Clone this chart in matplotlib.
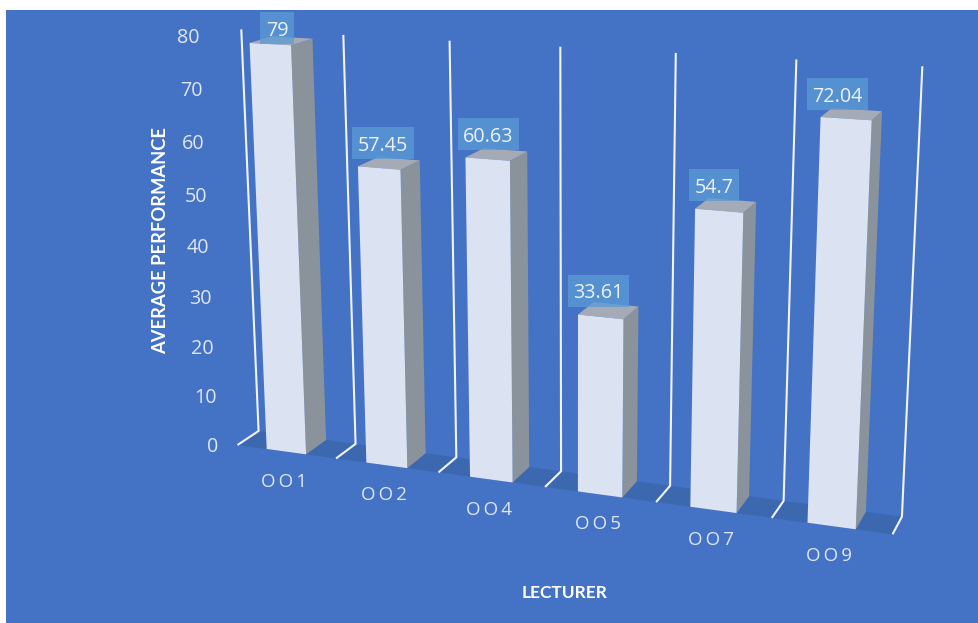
#!/usr/bin/env python3

import numpy as np
import matplotlib
matplotlib.use("Agg")
import matplotlib.pyplot as plt
from matplotlib.patches import Polygon, Rectangle

lecturers = ["O\u2009O\u20091", "O\u2009O\u20092", "O\u2009O\u20094", "O\u2009O\u20095", "O\u2009O\u20097", "O\u2009O\u20099"]
performance = [79, 57.45, 60.63, 33.61, 54.7, 72.04]
value_labels = ["79", "57.45", "60.63", "33.61", "54.7", "72.04"]
y_ticks = [0, 10, 20, 30, 40, 50, 60, 70, 80]

BLUE = "#4472C4"
FLOOR = "#3C68B0"
FRONT = "#DBE2F2"
SIDE = "#8A929C"
TOP = "#A4ABB6"
GRID = "#F1F4FB"
TICK = "#DFE6F4"
FONT = ["Open Sans", "DejaVu Sans"]

# camera for the 3d look: (slot, value, depth) -> canvas pixel, depth 0 is the front of the floor
camera_x = [0, 1, 2, 3, 4, 5, 6]
back_top = [(241, 29), (343, 35), (449, 41), (560, 47), (676, 53), (796, 59), (922, 66)]
back_bottom = [(259, 431), (356, 444), (457, 457), (561, 471), (670, 486), (784, 501), (902, 517)]
front_bottom = [(237, 445), (336, 459), (438, 472), (544, 487), (656, 502), (772, 518), (892, 534)]
front_refs = [
    (0.3, 79, 250, 43), (0.7, 79, 291, 46),
    (1.3, 57.45, 358, 166), (1.7, 57.45, 401, 169),
    (3.3, 33.61, 579, 315), (3.7, 33.61, 623, 319),
    (4.3, 54.7, 696, 209), (4.7, 54.7, 743, 212),
    (5.3, 72.04, 821, 117), (5.7, 72.04, 872, 121),
]


def fit_camera():
    refs = []
    for i, k in enumerate(camera_x):
        refs.append((k, 80, 1) + back_top[i])
        refs.append((k, 0, 1) + back_bottom[i])
        refs.append((k, 0, 0) + front_bottom[i])
    for r in front_refs:
        refs.append((r[0], r[1], 0, r[2], r[3]))
    rows = []
    rhs = []
    for X, Y, Z, u, v in refs:
        rows.append([X, Y, Z, 1, 0, 0, 0, 0, -u * X, -u * Y, -u * Z])
        rhs.append(u)
        rows.append([0, 0, 0, 0, X, Y, Z, 1, -v * X, -v * Y, -v * Z])
        rhs.append(v)
    sol = np.linalg.lstsq(np.array(rows, float), np.array(rhs, float), rcond=None)[0]
    return np.append(sol, 1).reshape(3, 4)


P = fit_camera()


def project(x, value, depth):
    u, v, w = P @ np.array([x, value, depth, 1.0])
    return u / w, v / w


fig = plt.figure(figsize=(9.79, 6.23), dpi=100)
ax = fig.add_axes([0, 0, 1, 1])
ax.set_xlim(0, 979)
ax.set_ylim(623, 0)
ax.axis("off")
ax.add_patch(Rectangle((6, 10), 973, 613, color=BLUE, lw=0, zorder=0))

n = len(lecturers)

# floor
ax.add_patch(Polygon([project(0, 0, 0), project(n, 0, 0), project(n, 0, 1), project(0, 0, 1)],
                     color=FLOOR, lw=0, zorder=1))

# gridlines run up the back wall and out along the floor
for k in range(n + 1):
    pts = [project(k, 80, 1), project(k, 0, 1), project(k, 0, 0)]
    ax.plot([p[0] for p in pts], [p[1] for p in pts], color=GRID, lw=1.5,
            solid_joinstyle="miter", solid_capstyle="butt", zorder=2)

# bars
for k, val in enumerate(performance):
    x0 = k + 0.3
    x1 = k + 0.7
    ax.add_patch(Polygon([project(x1, 0, 0), project(x1, 0, 1), project(x1, val, 1), project(x1, val, 0)],
                         color=SIDE, lw=0, zorder=3))
    ax.add_patch(Polygon([project(x0, val, 0), project(x1, val, 0), project(x1, val, 1), project(x0, val, 1)],
                         color=TOP, lw=0, zorder=3))
    ax.add_patch(Polygon([project(x0, 0, 0), project(x1, 0, 0), project(x1, val, 0), project(x0, val, 0)],
                         color=FRONT, lw=0, zorder=4))

# y tick labels
for tick in y_ticks:
    px, py = project(0, tick, 0)
    ax.text(px - 19, py + 2, str(tick), color=TICK, fontsize=14.2, family=FONT,
            ha="right", va="center", zorder=6)

# category labels
for k, name in enumerate(lecturers):
    px, py = project(k + 0.5, 0, 0)
    ax.text(px - 2.5, py + 30, name, color=TICK, fontsize=13.5, family=FONT,
            ha="center", va="center", zorder=6)

# value labels with their boxes, kept inside the chart area
renderer = fig.canvas.get_renderer()
box_h = 32
for k, val in enumerate(performance):
    px, py = project(k + 0.5, val, 0.5)
    cx = px - 4 - 2 * k
    cy = max(py - 20, 12 + box_h / 2)
    t = ax.text(cx, cy, value_labels[k], color="#EDF2FA", fontsize=14.2, family=FONT,
                ha="center", va="center_baseline", zorder=8)
    w = t.get_window_extent(renderer).width + 11
    ax.add_patch(Rectangle((cx - w / 2, cy - box_h / 2), w, box_h, color="#5B9BD5", alpha=0.75,
                           lw=0, zorder=7))

# axis titles
ax.text(161, 240, "AVERAGE PERFORMANCE", color="white", fontsize=13.2, family="Lato",
        weight="bold", rotation=90, ha="center", va="center", zorder=6)
ax.text(565, 593, "LECTURER", color="white", fontsize=12.5, family="Lato",
        weight="bold", ha="center", va="center", zorder=6)

fig.savefig("out.png", dpi=100, facecolor="white")
